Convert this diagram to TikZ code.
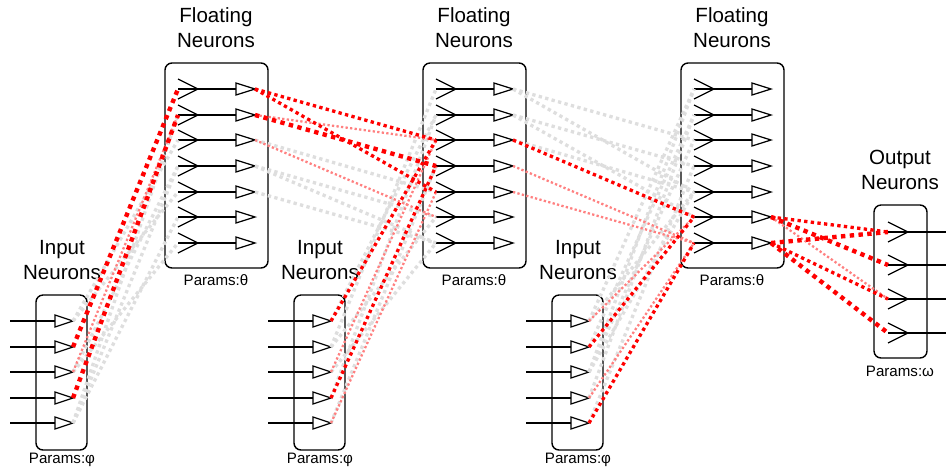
\documentclass[tikz,border=0pt]{standalone}
\usepackage{fontspec}
\setmainfont{Liberation Sans}

\tikzset{
  box/.style={draw, line width=0.8pt, rounded corners=4pt},
  wire/.style={line width=0.7pt},
  title/.style={font=\fontsize{11.7}{14.2}\selectfont, align=center},
  param/.style={font=\fontsize{8.6}{10}\selectfont},
  hot/.style={red, line width=2.5pt, dash pattern=on 2.5pt off 2.5pt},
  warm/.style={red, line width=1.9pt, dash pattern=on 1.9pt off 1.9pt},
  faint/.style={red!50, line width=1.3pt, dash pattern=on 1.3pt off 1.3pt},
  idle/.style={black!13, line width=1.9pt, dash pattern=on 1.9pt off 1.9pt},
}

\begin{document}
\begin{tikzpicture}[x=0.02cm, y=-0.02cm]

\useasboundingbox (0,0) rectangle (946,471);

%% 入力層
\foreach \k/\dx in {1/0,2/258,3/516} {
  \draw[box] (36+\dx,295) rectangle (87+\dx,450);
  \foreach \j/\y in {1/321,2/347,3/372,4/398,5/423} {
    \draw[wire] (10+\dx,\y) -- (55+\dx,\y);
    \draw[wire] (55+\dx,\y-6) -- (73+\dx,\y) -- (55+\dx,\y+6) -- cycle;
    \coordinate (in\k-\j) at (73+\dx,\y);
  }
  \node[title] (inlab\k) at (62+\dx,260) {Input\\Neurons};
  \node[param] (inpar\k) at (62+\dx,460) {Params:φ};
}

%% 浮動層
\foreach \k/\dx in {1/0,2/258,3/516} {
  \draw[box] (165+\dx,63) rectangle (268+\dx,268);
  \foreach \j/\y in {1/89,2/115,3/140,4/166,5/192,6/217,7/243} {
    \draw[wire] (178+\dx,\y-10) -- (198+\dx,\y) -- (178+\dx,\y+10);
    \draw[wire] (178+\dx,\y) -- (236+\dx,\y);
    \draw[wire] (236+\dx,\y-6) -- (255+\dx,\y) -- (236+\dx,\y+6) -- cycle;
    \coordinate (fl\k-\j) at (178+\dx,\y);
    \coordinate (fo\k-\j) at (255+\dx,\y);
  }
  \node[title] (fllab\k) at (216+\dx,28) {Floating\\Neurons};
  \node[param] (flpar\k) at (216+\dx,280) {Params:θ};
}

%% 出力層
\draw[box] (874,205) rectangle (927,358);
\foreach \j/\y in {1/232,2/265,3/299,4/333} {
  \draw[wire] (888,\y-10) -- (908,\y) -- (888,\y+10);
  \draw[wire] (888,\y) -- (946,\y);
  \coordinate (out-\j) at (888,\y);
}
\node[title] (outlab) at (900,170) {Output\\Neurons};
\node[param] (outpar) at (900,371) {Params:ω};

%% 結線
% 灰
\foreach \a/\b in {in1-1/fl1-3, in1-1/fl1-5, in1-3/fl1-4, in1-5/fl1-2, in1-5/fl1-6,
    in1-3/fl1-7, in1-5/fl1-4,
    fo1-3/fl2-5, fo1-4/fl2-6, fo1-5/fl2-7, fo1-4/fl2-7,
    in2-1/fl2-2, in2-2/fl2-1, in2-2/fl2-6, in2-3/fl2-7, in2-5/fl2-4, in2-4/fl2-2,
    fo2-1/fl3-3, fo2-1/fl3-5, fo2-2/fl3-4, fo2-2/fl3-6, fo2-3/fl3-5,
    in3-1/fl3-1, in3-2/fl3-2, in3-3/fl3-1, in3-3/fl3-3, in3-4/fl3-2, in3-5/fl3-4,
    in3-1/fl3-5, in3-3/fl3-5}
  \draw[idle] (\a) -- (\b);

% 薄い赤
\foreach \a/\b in {in1-3/fl1-2, fo1-2/fl2-3, fo1-3/fl2-6, in2-3/fl2-3, in2-5/fl2-5,
    fo2-4/fl3-7, fo2-5/fl3-7, in3-1/fl3-6, in3-4/fl3-7, fo3-6/out-3}
  \draw[faint] (\a) -- (\b);

% 赤
\foreach \a/\b in {fo1-1/fl2-3, fo1-1/fl2-5, in2-1/fl2-3, in2-4/fl2-4,
    fo2-3/fl3-6, in3-2/fl3-6, in3-5/fl3-7, fo3-6/out-1, fo3-7/out-3}
  \draw[warm] (\a) -- (\b);

\foreach \a/\b in {in1-2/fl1-1, in1-4/fl1-2, fo1-2/fl2-4,
    fo3-7/out-1, fo3-6/out-2, fo3-7/out-4}
  \draw[hot] (\a) -- (\b);

\end{tikzpicture}
\end{document}
